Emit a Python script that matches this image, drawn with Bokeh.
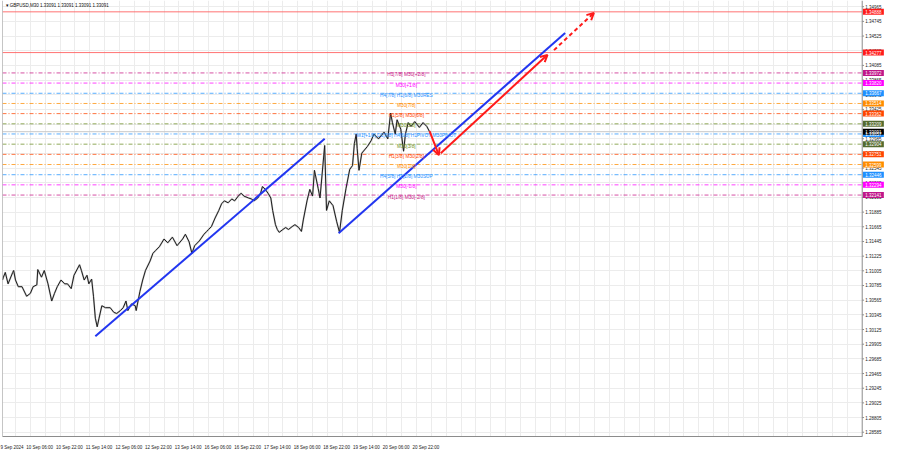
from bokeh.plotting import figure
from bokeh.models import (FixedTicker, Span, Label, Arrow, OpenHead, Range1d, ColumnDataSource)
from bokeh.core.properties import value
from bokeh.embed import file_html
from bokeh.resources import INLINE

FONT = "Liberation Sans"

symbol = "GBPUSD,M30"
last_price = 1.33091

# (bar index, price)
price_points = [
    (0, 1.30867), (1, 1.30910), (3, 1.30981), (6, 1.30810), (11, 1.30981), (12, 1.31010),
    (14, 1.30867), (17, 1.30767), (21, 1.30767), (26, 1.30624), (30, 1.30667), (33, 1.30767),
    (37, 1.30795), (38, 1.31024), (42, 1.30910), (45, 1.31010), (49, 1.30810), (53, 1.30552),
    (56, 1.30667), (59, 1.30767), (63, 1.30867), (67, 1.30810), (70, 1.30810), (74, 1.30738),
    (77, 1.30938), (83, 1.31096), (85, 1.31010), (88, 1.30867), (91, 1.30938), (93, 1.30810),
    (96, 1.30881), (98, 1.30624), (100, 1.30295), (102, 1.30166), (104, 1.30295), (107, 1.30481),
    (111, 1.30452), (116, 1.30452), (120, 1.30381), (123, 1.30366), (127, 1.30409), (130, 1.30452),
    (133, 1.30552), (135, 1.30409), (139, 1.30509), (143, 1.30481), (144, 1.30409), (146, 1.30552),
    (148, 1.30695), (151, 1.30867), (154, 1.31010), (159, 1.31153), (162, 1.31267), (165, 1.31310),
    (169, 1.31367), (174, 1.31482), (178, 1.31425), (183, 1.31510), (188, 1.31382), (194, 1.31482),
    (197, 1.31553), (201, 1.31439), (204, 1.31267), (207, 1.31382), (212, 1.31453), (217, 1.31553),
    (220, 1.31596), (222, 1.31625), (225, 1.31668), (229, 1.31797), (233, 1.31911), (236, 1.32011),
    (239, 1.32054), (243, 1.32025), (247, 1.32083), (250, 1.32054), (254, 1.32126), (257, 1.32169),
    (260, 1.32126), (265, 1.32097), (268, 1.32083), (271, 1.32054), (275, 1.32097), (278, 1.32169),
    (280, 1.32269), (283, 1.32226), (286, 1.32169), (289, 1.32097), (291, 1.31911), (294, 1.31697),
    (296, 1.31625), (298, 1.31582), (302, 1.31625), (305, 1.31654), (308, 1.31625), (312, 1.31668),
    (315, 1.31697), (319, 1.31654), (322, 1.31596), (324, 1.31768), (328, 1.32054), (331, 1.32226),
    (334, 1.32126), (336, 1.32512), (340, 1.32240), (342, 1.32097), (347, 1.32884), (349, 1.31911),
    (352, 1.32054), (356, 1.31983), (360, 1.31740), (363, 1.31582), (366, 1.31911), (370, 1.32240),
    (374, 1.32526), (377, 1.32583), (379, 1.32912), (381, 1.33055), (382, 1.32841), (384, 1.32512),
    (387, 1.32769), (393, 1.32869), (397, 1.32955), (400, 1.33055), (405, 1.32984), (411, 1.33084),
    (415, 1.32984), (418, 1.33370), (420, 1.33227), (423, 1.33055), (425, 1.33270), (429, 1.33127),
    (432, 1.32798), (434, 1.33055), (437, 1.33227), (440, 1.33170), (444, 1.33242), (449, 1.33156),
    (453, 1.33227), (457, 1.33170), (460, 1.33091),
]
bars = [b for b, _ in price_points]
closes = [c for _, c in price_points]

time_labels = ["9 Sep 2024", "10 Sep 06:00", "10 Sep 22:00", "11 Sep 14:00", "12 Sep 06:00",
               "12 Sep 22:00", "13 Sep 14:00", "16 Sep 06:00", "16 Sep 22:00", "17 Sep 14:00",
               "18 Sep 06:00", "18 Sep 22:00", "19 Sep 14:00", "20 Sep 06:00", "20 Sep 22:00"]
time_label_bars = [0, 30, 62, 94, 126, 158, 190, 222, 254, 286, 318, 350, 382, 414, 446]

y_ticks = [1.28585, 1.28805, 1.29025, 1.29245, 1.29465, 1.29685, 1.29905, 1.30125, 1.30345,
           1.30565, 1.30785, 1.31005, 1.31225, 1.31445, 1.31665, 1.31885, 1.32105, 1.32325,
           1.32545, 1.32765, 1.32985, 1.33205, 1.33425, 1.33645, 1.33865, 1.34085, 1.34305,
           1.34525, 1.34745, 1.34965]

level_prices = [1.33972, 1.33820, 1.33667, 1.33514, 1.33362, 1.33209, 1.33057,
                1.32904, 1.32751, 1.32599, 1.32446, 1.32294, 1.32141]
level_names = ["H1[7/8] M30[+2/8]", "M30[+1/8]", "H4[7/8] H1[6/8] M30RES", "M30[7/8]",
               "H1[5/8] M30[6/8]", "M30[5/8]", "W1[+1/8] D1[5/8] H4[6/8] H1PIVOT M30PIVOT",
               "M30[3/8]", "H1[3/8] M30[2/8]", "M30[1/8]", "H4[5/8] H1[2/8] M30SUP",
               "M30[-1/8]", "H1[1/8] M30[-2/8]"]
level_colors = ["#c71585", "#ff00ff", "#1e90ff", "#ff8c00", "#ff4500", "#6b8e23", "#1e90ff",
                "#6b8e23", "#ff4500", "#ff8c00", "#1e90ff", "#ff00ff", "#c71585"]

red_levels = [1.34888, 1.34277]

mark_prices = [1.34888, 1.34277, 1.33972, 1.33820, 1.33667, 1.33514, 1.33362, 1.33209,
               1.33057, 1.33091, 1.32904, 1.32751, 1.32599, 1.32446, 1.32294, 1.32141]
mark_colors = ["#ff1a1a", "#ff1a1a", "#c0168a", "#ff00ff", "#1e90ff", "#ff8c00", "#ff4500",
               "#556b2f", "#1e90ff", "#000000", "#556b2f", "#ff4500", "#ff8c00", "#1e90ff",
               "#ff00ff", "#c0168a"]

trend_x0 = [100, 362]
trend_y0 = [1.30023, 1.31568]
trend_x1 = [347, 606]
trend_y1 = [1.32984, 1.34572]

arrow_x0 = [460, 472, 594]
arrow_y0 = [1.33098, 1.32769, 1.34314]
arrow_x1 = [470, 587, 637]
arrow_y1 = [1.32741, 1.34243, 1.34872]
arrow_dash = ["solid", "solid", "4 3"]

AXIS_X = 926      # bar position of the price-scale line
X_TOTAL = 950     # right end incl. price-scale strip
Y0, Y1 = 1.28521, 1.35058

p = figure(width=884, height=452, output_backend="svg", toolbar_location=None,
           x_range=Range1d(0, X_TOTAL), y_range=Range1d(Y0, Y1),
           y_axis_location=None, min_border_left=2, min_border_top=0,
           min_border_right=0, min_border_bottom=0)
p.background_fill_color = "white"
p.border_fill_color = "white"
p.outline_line_color = None

# x axis (labels start at their time, so centre them a little to the right)
tick_pos = [float(b + (7 if i == 0 else 10)) for i, b in enumerate(time_label_bars)]
p.xaxis.ticker = FixedTicker(ticks=tick_pos)
p.xaxis.major_label_overrides = {t: l for t, l in zip(tick_pos, time_labels)}
p.xaxis.major_label_text_font_size = "4.5px"
p.xaxis.major_label_text_font = FONT
p.xaxis.major_label_text_color = "#222222"
p.xaxis.major_tick_line_color = None
p.xaxis.minor_tick_line_color = None
p.xaxis.major_label_standoff = 2
p.xaxis.axis_line_color = "#8c8c8c"
p.xaxis.bounds = (0, AXIS_X)

p.xgrid.ticker = FixedTicker(ticks=list(range(time_label_bars[1] - 16, AXIS_X, 16)))
p.xgrid.grid_line_color = "#ececec"
p.ygrid.ticker = FixedTicker(ticks=y_ticks)
p.ygrid.grid_line_color = "#ececec"

# red levels
p.segment(x0=0, x1=AXIS_X, y0=red_levels, y1=red_levels, line_color="#ff5a5a",
          line_width=1, line_alpha=0.85)
# current price line
p.segment(x0=0, x1=AXIS_X, y0=[last_price], y1=[last_price], line_color="#c8c8c8", line_width=1)

# octave levels
p.segment(x0=0, x1=AXIS_X, y0=level_prices, y1=level_prices, line_color=level_colors,
          line_width=1, line_dash="4 2 1 2", line_alpha=0.75)

# price series
p.line(bars, closes, line_color="#9a9a9a", line_width=1.8, line_alpha=0.55)
p.line(bars, closes, line_color="#1e1e1e", line_width=1.0)

# trend lines
p.segment(x0=trend_x0, y0=trend_y0, x1=trend_x1, y1=trend_y1,
          line_color="#2236f0", line_width=2)

# red arrows
for xs, ys, xe, ye, d in zip(arrow_x0, arrow_y0, arrow_x1, arrow_y1, arrow_dash):
    p.add_layout(Arrow(x_start=xs, y_start=ys, x_end=xe, y_end=ye,
                       line_color="#ff1a1a", line_width=2, line_dash=d,
                       end=OpenHead(size=7, line_color="#ff1a1a", line_width=2)))

# level texts
src = ColumnDataSource(dict(x=[435] * len(level_prices), y=level_prices,
                            t=level_names, c=level_colors))
p.text(x="x", y="y", text="t", text_color="c", source=src, text_font=value(FONT),
       text_font_size="4.8px", text_align="center", text_baseline="middle", y_offset=2)

# ---- price scale strip on the right ----
p.quad(left=AXIS_X, right=X_TOTAL, bottom=Y0, top=Y1, fill_color="white", line_color=None)
p.add_layout(Span(location=AXIS_X, dimension="height", line_color="#8c8c8c", line_width=1))
p.add_layout(Span(location=0, dimension="height", line_color="#8c8c8c", line_width=1))
p.segment(x0=AXIS_X, x1=AXIS_X + 2, y0=y_ticks, y1=y_ticks, line_color="#8c8c8c")
p.text(x=[AXIS_X] * len(y_ticks), y=y_ticks, text=[f"{t:.5f}" for t in y_ticks],
       x_offset=3, text_font=value(FONT), text_font_size="4.5px", text_color="#222222",
       text_align="left", text_baseline="middle")

# coloured price marks
p.rect(x=[AXIS_X + 12] * len(mark_prices), y=mark_prices, width=21, height=6,
       width_units="screen", height_units="screen", fill_color=mark_colors, line_color=None)
p.text(x=[AXIS_X] * len(mark_prices), y=mark_prices, text=[f"{m:.5f}" for m in mark_prices],
       x_offset=3, text_font=value(FONT), text_font_size="4.5px", text_color="white",
       text_align="left", text_baseline="middle")

# title
p.add_layout(Label(x=0, y=Y1, x_offset=3, y_offset=-2,
                   text=f"\u25be {symbol}  {last_price:.5f} {last_price:.5f} {last_price:.5f} {last_price:.5f}",
                   text_font=FONT, text_font_size="4.5px", text_color="#111111",
                   text_align="left", text_baseline="top"))

open("out.html", "w").write(file_html(p, INLINE))
